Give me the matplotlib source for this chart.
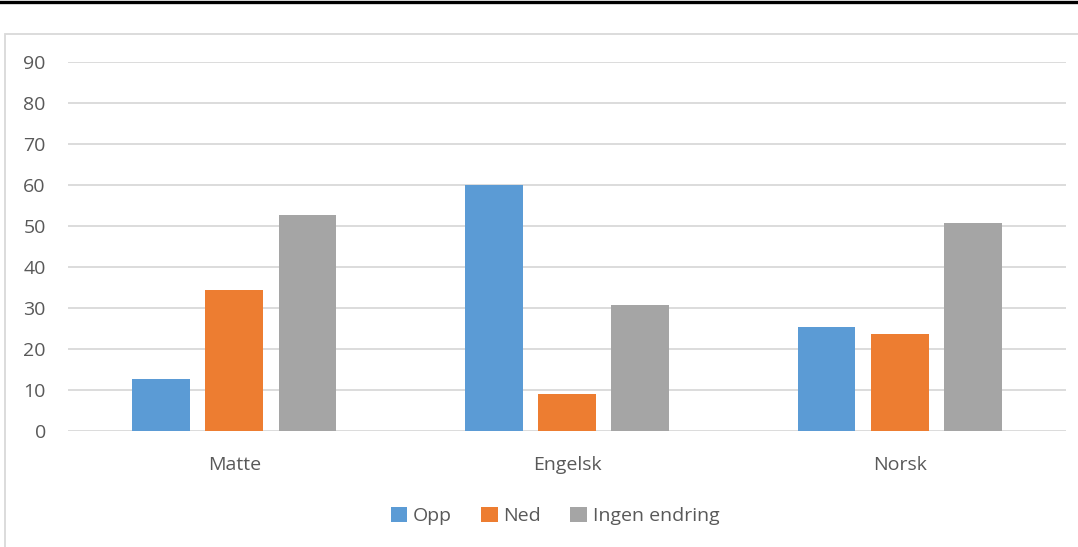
import numpy as np
import matplotlib.pyplot as plt
from matplotlib.patches import Rectangle
from matplotlib.lines import Line2D

## data
categories = ['Matte', 'Engelsk', 'Norsk']
series_names = ['Opp', 'Ned', 'Ingen endring']
opp = [12.7, 60.0, 25.4]
ned = [34.4, 9.0, 23.7]
ingen = [52.7, 30.7, 50.7]
yticks = [0, 10, 20, 30, 40, 50, 60, 70, 80, 90]

colors = ['#5B9BD5', '#ED7D31', '#A5A5A5']
txt_col = '#595959'

plt.rcParams['font.family'] = ['Open Sans', 'DejaVu Sans']

W, H = 1078, 547
fig = plt.figure(figsize=(W / 100, H / 100), dpi=100)

# frame decoration: black rule on top, light border box
fig.add_artist(Line2D([0, 1], [1 - 1.5 / H, 1 - 1.5 / H], color='black', lw=2.4,
                      transform=fig.transFigure))
fig.add_artist(Rectangle((4.5 / W, -0.1), 1.2, 1 - 33.5 / H + 0.1, fill=False,
                         edgecolor='#D9D9D9', lw=1.3, transform=fig.transFigure))

ax = fig.add_axes([68 / W, 116 / H, 998 / W, 369 / H])

x = np.arange(len(categories))
bw, gap = 0.174, 0.046
offsets = [-(bw + gap), 0, bw + gap]
for vals, off, c, name in zip([opp, ned, ingen], offsets, colors, series_names):
    ax.bar(x + off, vals, width=bw, color=c, label=name, zorder=3)

ax.set_xlim(-0.5, len(categories) - 0.5)
ax.set_ylim(0, 90)
ax.set_yticks(yticks)
ax.set_xticks(x, categories)
ax.yaxis.grid(True, color='#D9D9D9', lw=1.3, zorder=0)
for s in ax.spines.values():
    s.set_visible(False)
ax.tick_params(axis='both', length=0, colors=txt_col, labelsize=14)
ax.tick_params(axis='y', pad=16)
ax.tick_params(axis='x', pad=18)

fig.legend(loc='center', bbox_to_anchor=(555 / W, 1 - 516 / H), ncol=3, frameon=False,
           fontsize=14, labelcolor=txt_col, handlelength=0.85, handleheight=0.85,
           handletextpad=0.3, columnspacing=1.5)

fig.savefig('out.png', dpi=100)
